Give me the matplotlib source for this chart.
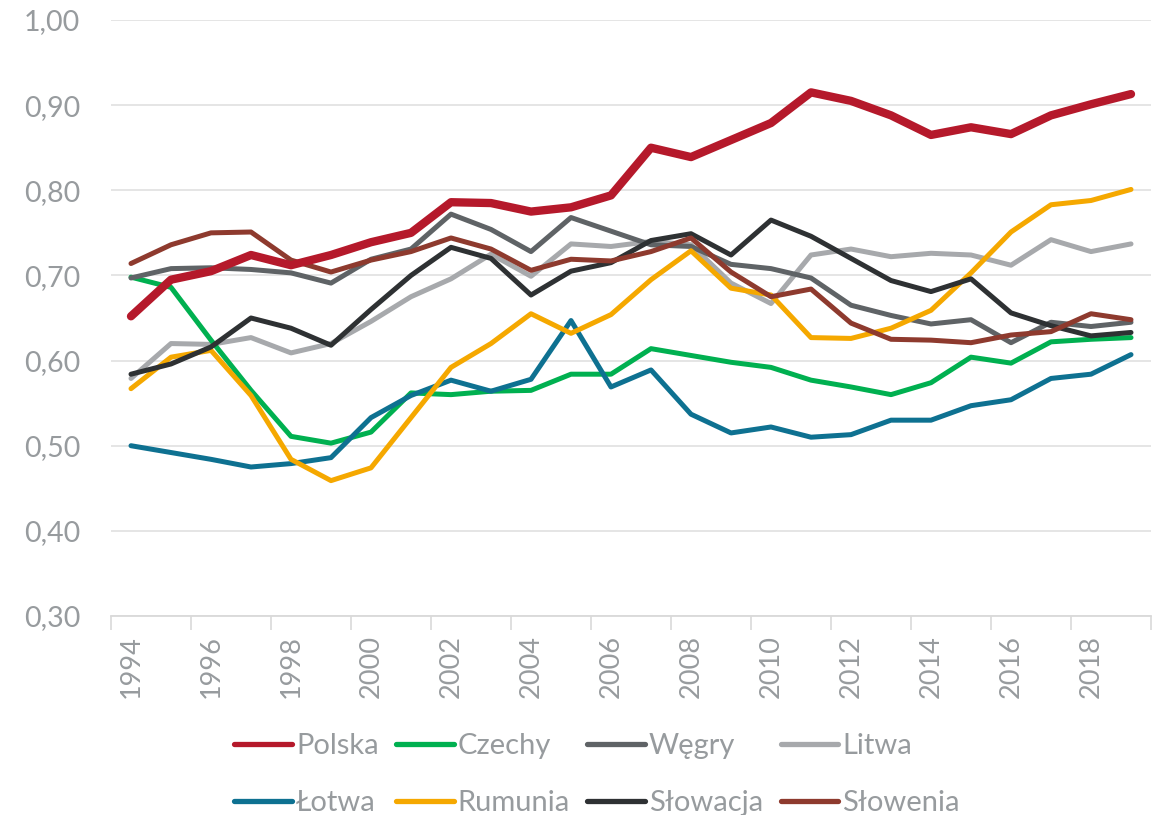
import matplotlib
matplotlib.use("Agg")
import matplotlib.pyplot as plt
from matplotlib.ticker import FixedLocator, FuncFormatter, NullFormatter

years = list(range(1994, 2020))

polska = [0.652, 0.695, 0.705, 0.724, 0.712, 0.724, 0.739, 0.750, 0.786, 0.785, 0.775, 0.780, 0.794,
          0.850, 0.839, 0.859, 0.879, 0.915, 0.905, 0.888, 0.865, 0.874, 0.866, 0.888, 0.901, 0.913]
czechy = [0.698, 0.686, 0.624, 0.565, 0.511, 0.503, 0.516, 0.562, 0.560, 0.564, 0.565, 0.584, 0.584,
          0.614, 0.606, 0.598, 0.592, 0.577, 0.569, 0.560, 0.574, 0.604, 0.597, 0.622, 0.625, 0.627]
wegry = [0.697, 0.708, 0.709, 0.707, 0.703, 0.691, 0.719, 0.731, 0.772, 0.754, 0.728, 0.768, 0.752,
         0.736, 0.734, 0.713, 0.708, 0.697, 0.665, 0.653, 0.643, 0.648, 0.621, 0.645, 0.640, 0.645]
litwa = [0.579, 0.620, 0.619, 0.627, 0.609, 0.620, 0.646, 0.675, 0.696, 0.725, 0.699, 0.737, 0.734,
         0.740, 0.736, 0.691, 0.667, 0.724, 0.731, 0.722, 0.726, 0.724, 0.712, 0.742, 0.728, 0.737]
lotwa = [0.500, 0.492, 0.484, 0.475, 0.479, 0.486, 0.533, 0.559, 0.577, 0.564, 0.578, 0.647, 0.569,
         0.589, 0.537, 0.515, 0.522, 0.510, 0.513, 0.530, 0.530, 0.547, 0.554, 0.579, 0.584, 0.607]
rumunia = [0.567, 0.604, 0.612, 0.559, 0.484, 0.459, 0.474, 0.533, 0.592, 0.620, 0.655, 0.632, 0.654,
           0.695, 0.729, 0.685, 0.677, 0.627, 0.626, 0.638, 0.659, 0.703, 0.751, 0.783, 0.788, 0.801]
slowacja = [0.584, 0.596, 0.616, 0.650, 0.638, 0.618, 0.660, 0.700, 0.733, 0.720, 0.677, 0.705, 0.715,
            0.741, 0.749, 0.724, 0.765, 0.746, 0.720, 0.694, 0.681, 0.696, 0.656, 0.641, 0.629, 0.633]
slowenia = [0.714, 0.736, 0.750, 0.751, 0.718, 0.704, 0.718, 0.728, 0.744, 0.731, 0.706, 0.719, 0.717,
            0.728, 0.744, 0.704, 0.675, 0.684, 0.644, 0.625, 0.624, 0.621, 0.630, 0.634, 0.655, 0.648]

names = ["Polska", "Czechy", "Węgry", "Litwa", "Łotwa", "Rumunia", "Słowacja", "Słowenia"]
series = [polska, czechy, wegry, litwa, lotwa, rumunia, slowacja, slowenia]
colors = ["#B5192B", "#00B050", "#5F6366", "#A7A9AC", "#0E7191", "#F5A800", "#2E3133", "#8E3A2E"]
widths = [6.0, 3.6, 3.6, 3.6, 3.6, 3.6, 3.6, 3.6]
zorders = [10, 3, 4, 2, 3, 5, 6, 7]

yticks = [0.30, 0.40, 0.50, 0.60, 0.70, 0.80, 0.90, 1.00]

plt.rcParams['font.family'] = ['Lato', 'DejaVu Sans']
txtc = "#979B9E"

fig = plt.figure(figsize=(11.6, 8.15), dpi=100)
ax = fig.add_axes([111/1160, 1-616/815, (1151-111)/1160, (616-20)/815])

handles = []
for name, s, c, w, z in zip(names, series, colors, widths, zorders):
    h, = ax.plot(years, s, color=c, lw=w, solid_capstyle='round', solid_joinstyle='round',
                 label=name, zorder=z)
    handles.append(h)

ax.set_ylim(0.30, 1.00)
ax.set_xlim(years[0] - 0.5, years[-1] + 0.5)
ax.set_yticks(yticks)
ax.yaxis.set_major_formatter(FuncFormatter(lambda v, p: f"{v:.2f}".replace('.', ',')))
ax.grid(axis='y', color='#E3E3E3', lw=1.3, zorder=0)
ax.set_axisbelow(True)

bounds = [y - 0.5 for y in years[::2]] + [years[-1] + 0.5]
ax.xaxis.set_major_locator(FixedLocator(bounds))
ax.xaxis.set_major_formatter(NullFormatter())
ax.xaxis.set_minor_locator(FixedLocator(years[::2]))
ax.xaxis.set_minor_formatter(FuncFormatter(lambda v, p: str(int(round(v)))))
ax.tick_params(axis='x', which='major', length=10, width=1.2, color='#D9D9D9', direction='out')
ax.tick_params(axis='x', which='minor', length=0, labelsize=19.5, labelcolor=txtc, rotation=90, pad=14)
ax.tick_params(axis='y', length=0, labelsize=20.5, labelcolor=txtc, pad=22)

for sp in ['top', 'right', 'left']:
    ax.spines[sp].set_visible(False)
ax.spines['bottom'].set_color('#D9D9D9')
ax.spines['bottom'].set_linewidth(1.3)

# legend: Excel fills row-wise, matplotlib column-wise -> reorder
order = [0, 4, 1, 5, 2, 6, 3, 7]
leg = fig.legend(handles=[handles[i] for i in order], labels=[names[i] for i in order],
                 ncol=4, loc='upper center',
                 bbox_to_anchor=(597/1160, 1 - 707/815), frameon=False,
                 fontsize=21, labelcolor=txtc, handlelength=1.97, handletextpad=0.14,
                 columnspacing=0.6, labelspacing=1.05)
for lh in leg.legend_handles:
    lh.set_linewidth(3.8)
    lh.set_solid_capstyle('round')

fig.savefig("out.png", dpi=100)
